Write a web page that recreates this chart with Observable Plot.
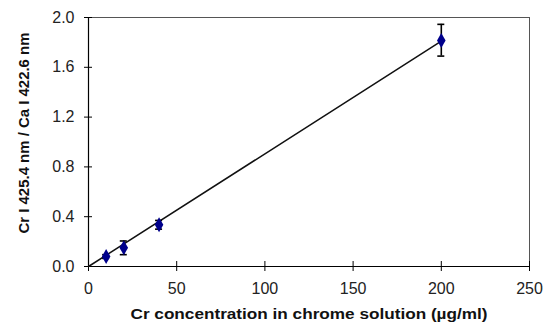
<!DOCTYPE html>
<html>
<head>
<meta charset="utf-8">
<script src="https://cdn.jsdelivr.net/npm/d3@7"></script>
<script src="https://cdn.jsdelivr.net/npm/@observablehq/plot@0.6"></script>
<style>
  html, body { margin: 0; padding: 0; background: #fff; }
  svg { display: block; }
</style>
</head>
<body>
<div id="chart"></div>
<script>
// Data
const concentration = [10, 20, 40, 200];          // µg/ml
const ratio = [0.08, 0.15, 0.335, 1.815];          // Cr I 425.4 / Ca I 422.6
const errLow = [0.065, 0.095, 0.30, 1.69];
const errHigh = [0.095, 0.205, 0.37, 1.945];
const fitX = [0, 200];
const fitY = [0, 1.81];
const xTicks = [0, 50, 100, 150, 200, 250];
const yTicks = [0, 0.4, 0.8, 1.2, 1.6, 2.0];
const xTitle = "Cr concentration in chrome solution (µg/ml)";
const yTitle = "Cr I 425.4 nm / Ca I 422.6 nm";

const points = concentration.map((c, i) => ({x: c, y: ratio[i], lo: errLow[i], hi: errHigh[i]}));
const fit = fitX.map((x, i) => ({x, y: fitY[i]}));

const font = "'Liberation Sans', Arial, sans-serif";

const chart = Plot.plot({
  width: 545,
  height: 324,
  marginLeft: 88,
  marginRight: 16,
  marginTop: 17,
  marginBottom: 58,
  style: {fontFamily: font, fontSize: "16px", color: "#000", background: "#fff"},
  x: {domain: [0, 250], ticks: xTicks},
  y: {domain: [0, 2.0], ticks: yTicks},
  marks: [
    Plot.frame({stroke: "#555", strokeWidth: 1}),
    Plot.axisX(xTicks, {tickSize: 0, tickPadding: 16, label: null, fontSize: 16, fill: "#222"}),
    Plot.axisY(yTicks, {tickSize: 0, tickPadding: 14, label: null, fontSize: 16, fill: "#222", tickFormat: d3.format(".1f")}),
    Plot.ruleY([0], {stroke: "#000", strokeWidth: 1.2}),
    Plot.ruleX([0], {stroke: "#000", strokeWidth: 1.2}),
    Plot.ruleX(xTicks, {x: d => d, y1: 0, y2: 0, insetTop: -5, insetBottom: -5, stroke: "#000"}),
    Plot.ruleY(yTicks, {y: d => d, x1: 0, x2: 0, insetLeft: -4, insetRight: -4, stroke: "#000"}),
    Plot.line(fit, {x: "x", y: "y", stroke: "#111", strokeWidth: 1.5}),
    Plot.ruleX(points, {x: "x", y1: "lo", y2: "hi", stroke: "#000", strokeWidth: 1.6}),
    Plot.ruleY(points, {y: "lo", x1: "x", x2: "x", insetLeft: -3.5, insetRight: -3.5, stroke: "#000", strokeWidth: 1.6}),
    Plot.ruleY(points, {y: "hi", x1: "x", x2: "x", insetLeft: -3.5, insetRight: -3.5, stroke: "#000", strokeWidth: 1.6}),
    Plot.dot(points, {x: "x", y: "y", symbol: "diamond", r: 4.5, fill: "#00008b", stroke: "none"}),
    Plot.text([xTitle], {frameAnchor: "bottom", dy: 52, fontWeight: "bold", fontSize: 15, fill: "#111", className: "xtitle"}),
    Plot.text([yTitle], {frameAnchor: "left", textAnchor: "middle", rotate: -90, dx: -64, dy: -9, fontWeight: "bold", fontSize: 15, fill: "#111", className: "ytitle"})
  ]
});
// Stretch the axis titles to the widths they occupy in the reference
d3.select(chart).selectAll("text").each(function() {
  const t = this.textContent;
  if (t === xTitle) { this.setAttribute("textLength", 357); this.setAttribute("lengthAdjust", "spacingAndGlyphs"); }
  if (t === yTitle) { this.setAttribute("textLength", 201); this.setAttribute("lengthAdjust", "spacingAndGlyphs"); }
});
document.getElementById("chart").appendChild(chart);
</script>
</body>
</html>
